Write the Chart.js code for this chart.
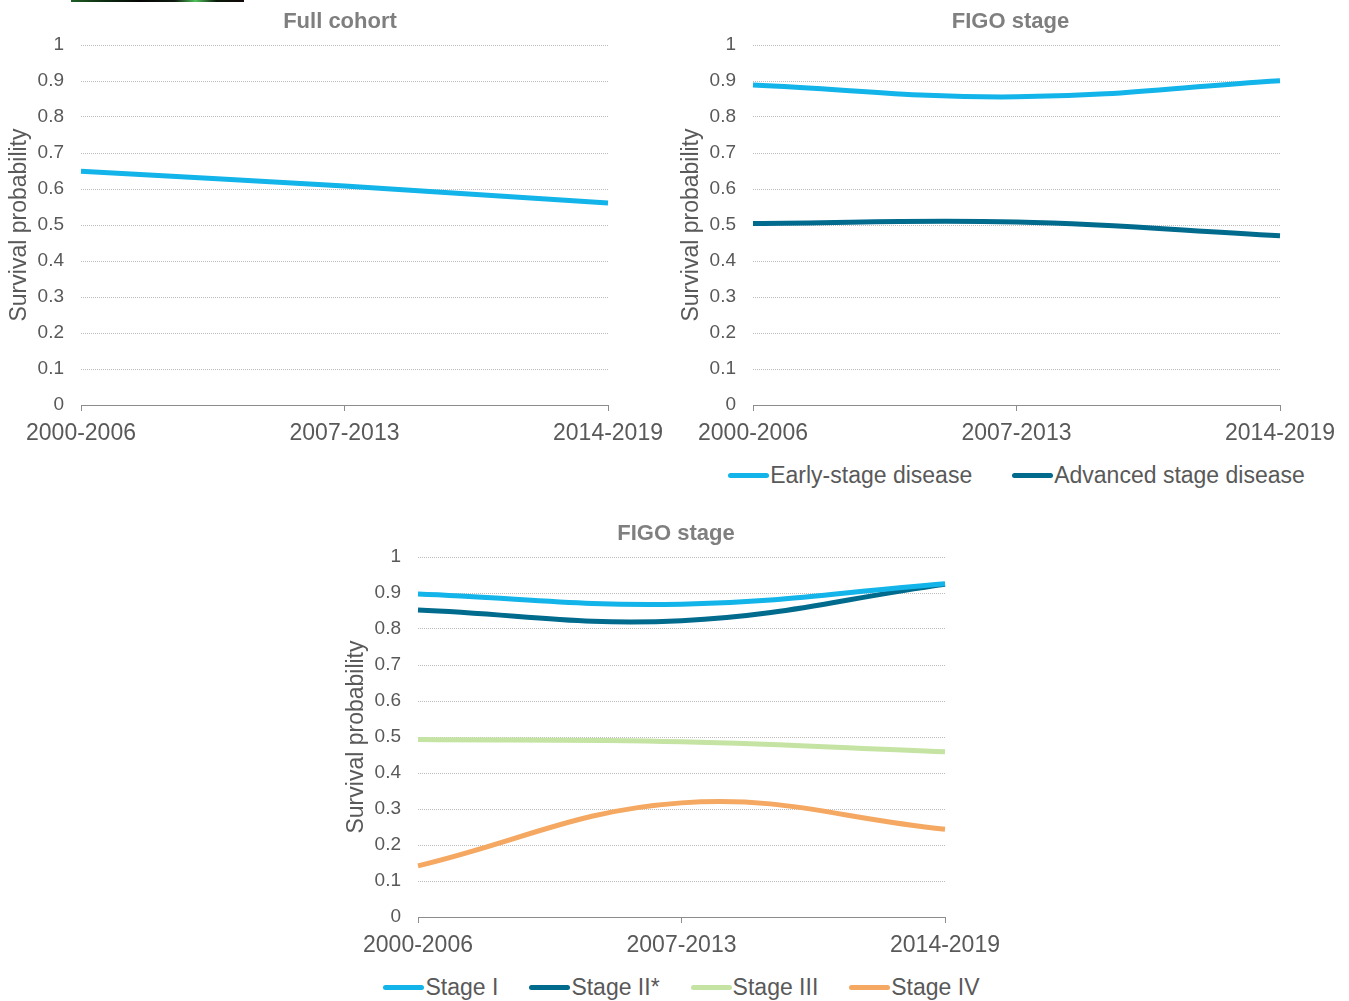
<!DOCTYPE html>
<html>
<head>
<meta charset="utf-8">
<title>Survival probability by period</title>
<script src="https://cdn.jsdelivr.net/npm/chart.js@4"></script>
<style>
  html, body { margin: 0; padding: 0; background: #ffffff; }
  body { width: 1349px; height: 1001px; position: relative; overflow: hidden;
         font-family: "Liberation Sans", Arial, sans-serif; }
  .panel { position: absolute; }
  .legend { position: absolute; display: flex; justify-content: center; align-items: center;
            height: 28px; font-size: 23px; color: #595959; white-space: nowrap; }
  .legend .item { display: flex; align-items: center; }
  .legend .swatch { display: inline-block; width: 41px; height: 5px; border-radius: 3px; margin-right: 1px; }
  .strip { position: absolute; left: 71px; top: 0; width: 173px; height: 2px;
           background: linear-gradient(90deg, #1f5f24 0%, #0c2a10 20%, #050505 40%, #101a10 60%, #4fc25a 72%, #0a1a0a 84%, #120808 100%); }
</style>
</head>
<body>
<div class="strip"></div>

<canvas id="cohort" class="panel" width="680" height="450" style="left:0px;top:0px;"></canvas>
<canvas id="figo2" class="panel" width="677" height="450" style="left:672px;top:0px;"></canvas>
<div id="legend2" class="legend" style="left:753px;top:461px;width:527px;gap:40px;"></div>
<canvas id="figo4" class="panel" width="678" height="450" style="left:337px;top:512px;"></canvas>
<div id="legend4" class="legend" style="left:418px;top:973px;width:527px;gap:31px;"></div>

<script>
// Calendar periods on the x axis
const PERIODS = ['2000-2006', '2007-2013', '2014-2019'];

// Survival probability per period
const FULL_COHORT    = [0.649, 0.608, 0.561];
const EARLY_STAGE    = [0.889, 0.856, 0.901];
const ADVANCED_STAGE = [0.504, 0.508, 0.470];
const STAGE_I        = [0.897, 0.869, 0.926];
const STAGE_II       = [0.853, 0.823, 0.924];
const STAGE_III      = [0.493, 0.487, 0.459];
const STAGE_IV       = [0.142, 0.317, 0.244];

// Y axis range
const Y_MIN = 0, Y_MAX = 1, Y_STEP = 0.1;

const COLORS = {
  lightBlue: '#12b4e9',
  darkTeal: '#006b8d',
  lightGreen: '#c5e3a3',
  orange: '#f4a861'
};

const FONT = '"Liberation Sans", Arial, sans-serif';
const TEXT = '#595959';

function series(label, data, color) {
  return {
    label, data,
    borderColor: color, backgroundColor: color,
    borderWidth: 5, pointRadius: 0, pointHoverRadius: 0,
    tension: 0.4, fill: false
  };
}

function makeChart(id, title, datasets, rightPad) {
  return new Chart(document.getElementById(id), {
    type: 'line',
    data: { labels: PERIODS, datasets },
    options: {
      responsive: false,
      animation: false,
      events: [],
      layout: { padding: 0 },
      plugins: {
        legend: { display: false },
        tooltip: { enabled: false },
        title: {
          display: true, text: title, color: '#7f7f7f',
          font: { family: FONT, size: 22, weight: 'bold', lineHeight: 1.2 },
          padding: { top: 8.5, bottom: 10.1 }
        }
      },
      scales: {
        x: {
          offset: false,
          grid: { display: true, drawOnChartArea: false, drawTicks: true, tickLength: 6, color: '#8c8c8c' },
          border: { display: true, color: '#8c8c8c', width: 1 },
          ticks: { color: TEXT, font: { family: FONT, size: 23 }, padding: 9, maxRotation: 0, autoSkip: false },
          afterFit(scale) {
            scale.height = 45;
            scale.paddingLeft = 0;
            scale.paddingRight = rightPad;
          }
        },
        y: {
          min: Y_MIN, max: Y_MAX,
          grid: { display: true, drawTicks: false, color: '#bcbcbc', lineWidth: 1 },
          border: { display: false, dash: [1, 1] },
          ticks: {
            stepSize: Y_STEP, color: TEXT, padding: 17,
            font: { family: FONT, size: 19 },
            callback: v => String(Number(v.toFixed(1)))
          },
          title: {
            display: true, text: 'Survival probability', color: TEXT,
            font: { family: FONT, size: 23, lineHeight: 1.2 },
            padding: { top: 6, bottom: 0 }
          },
          afterFit(scale) {
            scale.width = 81;
            scale.paddingTop = 0;
            scale.paddingBottom = 0;
          }
        }
      }
    }
  });
}

function buildLegend(chart, elId) {
  const host = document.getElementById(elId);
  chart.data.datasets.forEach(ds => {
    const item = document.createElement('div');
    item.className = 'item';
    const sw = document.createElement('span');
    sw.className = 'swatch';
    sw.style.background = ds.borderColor;
    const tx = document.createElement('span');
    tx.textContent = ds.label;
    item.appendChild(sw);
    item.appendChild(tx);
    host.appendChild(item);
  });
}

makeChart('cohort', 'Full cohort', [
  series('Full cohort', FULL_COHORT, COLORS.lightBlue)
], 72);

const figo2 = makeChart('figo2', 'FIGO stage', [
  series('Early-stage disease', EARLY_STAGE, COLORS.lightBlue),
  series('Advanced stage disease', ADVANCED_STAGE, COLORS.darkTeal)
], 69);
buildLegend(figo2, 'legend2');

const figo4 = makeChart('figo4', 'FIGO stage', [
  series('Stage I', STAGE_I, COLORS.lightBlue),
  series('Stage II*', STAGE_II, COLORS.darkTeal),
  series('Stage III', STAGE_III, COLORS.lightGreen),
  series('Stage IV', STAGE_IV, COLORS.orange)
], 70);
buildLegend(figo4, 'legend4');
</script>
</body>
</html>
